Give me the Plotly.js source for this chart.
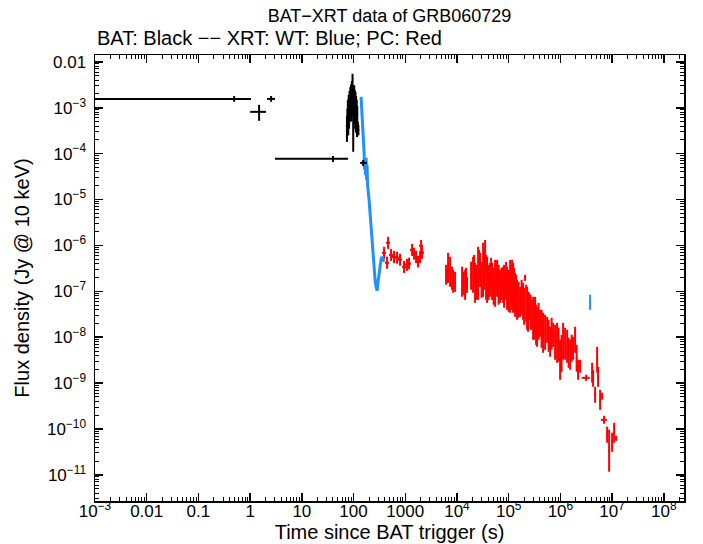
<!DOCTYPE html>
<html>
<head>
<meta charset="utf-8">
<script src="https://cdn.plot.ly/plotly-3.0.1.min.js"></script>
<style>html,body{margin:0;padding:0;background:#fff;}#chart{width:703px;height:544px;}</style>
</head>
<body>
<div id="chart"></div>
<script>
// ---------- BAT (black): wide bins ----------
const batLongT     = [0.49, 1.49, 2.54, 40.1, 153];
const batLongStart = [0.001, 1.0, 2.12, 3.03, 134];
const batLongStop  = [1.04, 2.03, 3.03, 78.3, 182];
const batLongF     = [1.56e-3, 8.15e-4, 1.56e-3, 7.7e-5, 6.3e-5];
const batLongFhi   = [1.80e-3, 1.16e-3, 1.80e-3, 8.9e-5, 7.3e-5];
const batLongFlo   = [1.35e-3, 5.2e-4, 1.35e-3, 6.6e-5, 5.4e-5];

// ---------- BAT (black): burst ----------
const batT = [74.5, 76, 77.5, 79, 80.5, 82, 83.5, 85, 86.5, 88, 89.5, 91, 92.5, 94, 95.5, 97, 98.5, 100, 101.5, 103, 104.5, 106, 107.5, 109, 110.5, 112, 113.5, 115, 116.5, 118, 121, 124];
const batTerr = [0.75, 0.75, 0.75, 0.75, 0.75, 0.75, 0.75, 0.75, 0.75, 0.75, 0.75, 0.75, 0.75, 0.75, 0.75, 0.75, 0.75, 0.75, 0.75, 0.75, 0.75, 0.75, 0.75, 0.75, 0.75, 0.75, 0.75, 0.75, 0.75, 0.75, 1.5, 1.5];
const batF = [4.0e-4, 6.0e-4, 9.0e-4, 5.5e-4, 1.2e-3, 8.0e-4, 1.5e-3, 1.0e-3, 1.8e-3, 1.3e-3, 2.0e-3, 1.1e-3, 2.4e-3, 1.6e-3, 3.0e-3, 1.4e-3, 9.0e-4, 1.7e-3, 1.2e-3, 2.0e-3, 1.0e-3, 1.5e-3, 8.0e-4, 1.3e-3, 7.0e-4, 1.1e-3, 6.0e-4, 9.0e-4, 5.0e-4, 7.0e-4, 3.8e-4, 3.3e-4];
const batFhi = [6.5e-4, 9.5e-4, 1.5e-3, 9.0e-4, 1.9e-3, 1.4e-3, 2.3e-3, 1.7e-3, 2.8e-3, 2.1e-3, 3.2e-3, 1.9e-3, 3.8e-3, 2.6e-3, 5.5e-3, 2.3e-3, 1.6e-3, 2.7e-3, 2.0e-3, 3.1e-3, 1.7e-3, 2.4e-3, 1.4e-3, 2.2e-3, 1.2e-3, 1.8e-3, 1.0e-3, 1.5e-3, 8.5e-4, 1.1e-3, 5.0e-4, 4.2e-4];
const batFlo = [1.8e-4, 3.0e-4, 4.5e-4, 2.5e-4, 6.5e-4, 3.5e-4, 8.5e-4, 5.0e-4, 1.0e-3, 6.5e-4, 1.1e-3, 5.0e-4, 1.3e-3, 8.0e-4, 1.4e-3, 6.5e-4, 1.1e-4, 8.5e-4, 5.5e-4, 1.0e-3, 4.5e-4, 7.0e-4, 3.5e-4, 6.0e-4, 3.0e-4, 5.0e-4, 2.8e-4, 4.0e-4, 2.3e-4, 3.5e-4, 2.8e-4, 2.5e-4];

// ---------- XRT WT (blue) ----------
const wtT = [139.6, 142.9, 146.0, 149.3, 152.8, 156.1, 159.6, 163.3, 166.8, 170.6, 174.6, 178.2, 182.4, 186.6, 190.5, 199.5, 208.5, 217.8, 228.0, 238.3, 249.5, 260.6, 272.3, 285.1, 297.8, 311.2, 325.8, 340.4, 355.6, 372.4, 389.0];
const wtF = [1.73e-3, 1.16e-3, 7.74e-4, 4.93e-4, 3.30e-4, 1.56e-4, 1.09e-4, 4.44e-5, 7.33e-5, 3.45e-5, 8.1e-5, 2.69e-5, 5.7e-5, 2.09e-5, 1.40e-5, 9.8e-6, 5.13e-6, 2.54e-6, 1.32e-6, 6.9e-7, 3.42e-7, 1.78e-7, 1.25e-7, 1.03e-7, 1.61e-7, 2.66e-7, 3.97e-7, 5.1e-7, 5.65e-7, 5.1e-7, 4.40e-7];
const wtLateT = [3.75e6];
const wtLateTerr = [30000];
const wtLateF = [5.9e-8];
const wtLateFhi = [8.4e-8];
const wtLateFlo = [3.95e-8];

// ---------- XRT PC (red) ----------
const pcT = [389, 445, 465, 531, 607, 693, 792, 948, 1083, 1184, 1354, 1480, 1618, 1770, 1933, 2022, 2115,
  6435, 6730, 7360, 8040, 8410, 12560, 14350, 15670, 20470, 22390, 25590, 27990, 31990, 34990, 38200, 43650, 47750, 54580, 59700, 68230, 77980, 85140, 93110,
  106400, 116400, 121600, 133000, 145200, 166300, 190100, 207500, 227000, 248300, 283800, 296500, 324300, 354000, 404700, 462400, 553400, 632400, 722800, 863000, 986300,
  1127000, 1349000, 1542000, 1762000, 1923000, 2198000, 2404000, 3141000, 4102000, 4285000, 4688000, 5129000, 5358000, 5861000, 6412000, 6998000, 8000000, 8750000, 10000000, 10940000, 11940000,
  6152, 9190, 13430, 14990, 18740, 21430, 23950, 26750, 29920, 33420, 36560, 40840, 45700, 51060, 57020, 63830, 72950, 81470, 89130, 99540,
  111200, 127100, 139000, 155200, 177800, 198600, 217300, 237100, 265500, 309700, 338800, 378400, 432500, 505800, 591600, 676100, 788900, 922600, 1054000, 1233000, 1442000, 1648000, 2057000];
const pcTerr = [35, 40, 42, 48, 55, 62, 71, 85, 97, 107, 122, 133, 146, 159, 174, 182, 190,
  130, 135, 150, 160, 170, 250, 290, 310, 410, 450, 510, 560, 640, 700, 760, 870, 950, 1090, 1190, 1360, 1560, 1700, 1860,
  2100, 2300, 2400, 2700, 2900, 3300, 3800, 4200, 4500, 5000, 5700, 5900, 6500, 7100, 8100, 9200, 11000, 12600, 14500, 17300, 19700,
  22500, 27000, 31000, 35000, 38000, 44000, 48000, 560000, 82000, 86000, 94000, 100000, 107000, 117000, 128000, 950000, 160000, 175000, 200000, 220000, 240000,
  120, 180, 270, 300, 370, 430, 480, 530, 600, 670, 730, 820, 910, 1020, 1140, 1280, 1460, 1630, 1780, 1990,
  2200, 2500, 2800, 3100, 3600, 4000, 4300, 4700, 5300, 6200, 6800, 7600, 8600, 10100, 11800, 13500, 15800, 18500, 21000, 24700, 28800, 33000, 41000];
const pcF = [6.9e-7, 4.2e-7, 1.14e-6, 6.2e-7, 5.6e-7, 5.4e-7, 4.9e-7, 3.4e-7, 3.8e-7, 4.0e-7, 8.0e-7, 6.6e-7, 5.6e-7, 4.4e-7, 5.6e-7, 9.8e-7, 6.9e-7,
  2.12e-7, 3.25e-7, 2.66e-7, 1.92e-7, 1.65e-7, 1.61e-7, 1.39e-7, 1.39e-7, 2.29e-7, 1.53e-7, 2.47e-7, 2.94e-7, 2.94e-7, 5.79e-7, 1.78e-7, 1.78e-7, 1.65e-7, 1.49e-7, 1.92e-7, 1.29e-7, 1.39e-7, 1.49e-7, 1.16e-7,
  1.29e-7, 1.39e-7, 1.19e-7, 8.4e-8, 6.5e-8, 5.9e-8, 6.05e-8, 1.97e-7, 4.27e-8, 4.71e-8, 3.08e-8, 2.58e-8, 2.78e-8, 1.69e-8, 2.01e-8, 1.25e-8, 1.45e-8, 7.9e-9, 1.13e-8, 7.55e-9, 3.22e-9,
  8.1e-9, 6.3e-9, 4.1e-9, 5.7e-9, 8.8e-9, 1.95e-9, 2.32e-9, 1.30e-9, 1.68e-9, 1.27e-9, 5.6e-10, 3.22e-9, 1.37e-9, 4.33e-10, 5.15e-10, 1.58e-10, 7.5e-11, 3.35e-11, 5.13e-11, 8.3e-11, 6.27e-11,
  2.29e-7, 1.61e-7, 1.49e-7, 1.87e-7, 2.18e-7, 2.94e-7, 1.57e-7, 3.78e-7, 1.78e-7, 2.94e-7, 2.02e-7, 1.57e-7, 2.41e-7, 1.29e-7, 1.92e-7, 1.39e-7, 1.46e-7, 1.29e-7, 1.69e-7, 1.03e-7,
  1.39e-7, 1.08e-7, 8.4e-8, 6.5e-8, 7.4e-8, 4.71e-8, 5.48e-8, 3.57e-8, 3.48e-8, 2.39e-8, 1.86e-8, 2.22e-8, 1.52e-8, 1.28e-8, 1.07e-8, 1.19e-8, 7.7e-9, 6.8e-9, 4.46e-9, 7.2e-9, 4.57e-9, 5.73e-9, 3.47e-9];
const pcFhi = [9.3e-7, 5.7e-7, 1.54e-6, 8.4e-7, 7.6e-7, 7.3e-7, 6.6e-7, 4.6e-7, 5.1e-7, 5.4e-7, 1.08e-6, 8.9e-7, 7.6e-7, 5.9e-7, 7.6e-7, 1.32e-6, 9.3e-7,
  2.94e-7, 6.9e-7, 5.65e-7, 3.42e-7, 2.94e-7, 3.42e-7, 2.94e-7, 2.07e-7, 5.65e-7, 4.18e-7, 9.3e-7, 6.9e-7, 1.14e-6, 1.32e-6, 5.65e-7, 4.18e-7, 4.18e-7, 4.85e-7, 4.85e-7, 2.94e-7, 3.42e-7, 2.94e-7, 3.42e-7,
  4.85e-7, 4.85e-7, 4.18e-7, 2.53e-7, 1.78e-7, 1.25e-7, 1.53e-7, 2.29e-7, 1.25e-7, 9.3e-8, 6.5e-8, 7.6e-8, 7.6e-8, 4.6e-8, 3.95e-8, 3.40e-8, 2.78e-8, 1.69e-8, 2.06e-8, 2.06e-8, 8.8e-9,
  2.06e-8, 1.45e-8, 8.8e-9, 1.02e-8, 1.69e-8, 3.22e-9, 3.22e-9, 1.52e-9, 2.77e-9, 1.95e-9, 8.3e-10, 6.18e-9, 2.26e-9, 7.1e-10, 6.15e-10, 1.94e-10, 1.12e-10, 9.6e-11, 8.3e-11, 1.36e-10, 7.1e-11,
  3.78e-7, 2.66e-7, 2.66e-7, 3.25e-7, 4.40e-7, 6.2e-7, 3.78e-7, 8.0e-7, 4.40e-7, 8.0e-7, 6.2e-7, 3.78e-7, 5.37e-7, 3.25e-7, 4.40e-7, 3.78e-7, 3.25e-7, 3.78e-7, 4.40e-7, 2.94e-7,
  3.78e-7, 3.25e-7, 2.29e-7, 1.61e-7, 1.78e-7, 1.19e-7, 1.39e-7, 9.75e-8, 8.4e-8, 6.5e-8, 5.1e-8, 5.6e-8, 3.95e-8, 3.08e-8, 2.39e-8, 2.65e-8, 1.86e-8, 1.60e-8, 1.13e-8, 1.60e-8, 9.7e-9, 1.13e-8, 6.8e-9];
const pcFlo = [5.1e-7, 3.1e-7, 8.4e-7, 4.6e-7, 4.1e-7, 4.0e-7, 3.6e-7, 2.5e-7, 2.8e-7, 3.0e-7, 5.9e-7, 4.9e-7, 4.1e-7, 3.3e-7, 4.1e-7, 7.3e-7, 5.1e-7,
  1.53e-7, 1.53e-7, 1.25e-7, 1.08e-7, 9.3e-8, 7.6e-8, 6.5e-8, 9.3e-8, 9.3e-8, 5.6e-8, 6.5e-8, 1.25e-7, 7.6e-8, 2.53e-7, 5.6e-8, 7.6e-8, 6.5e-8, 4.6e-8, 7.6e-8, 5.6e-8, 5.6e-8, 7.6e-8, 3.95e-8,
  3.40e-8, 3.95e-8, 3.40e-8, 2.78e-8, 2.39e-8, 2.78e-8, 2.39e-8, 1.69e-7, 1.45e-8, 2.39e-8, 1.45e-8, 8.8e-9, 1.02e-8, 6.18e-9, 1.02e-8, 4.57e-9, 7.55e-9, 3.74e-9, 6.18e-9, 2.77e-9, 1.18e-9,
  3.22e-9, 2.77e-9, 1.95e-9, 3.22e-9, 4.57e-9, 1.18e-9, 1.68e-9, 1.12e-9, 1.02e-9, 8.3e-10, 3.72e-10, 1.68e-9, 8.3e-10, 2.62e-10, 4.33e-10, 1.30e-10, 5.0e-11, 1.17e-11, 3.18e-11, 5.0e-11, 5.5e-11,
  1.39e-7, 9.75e-8, 8.4e-8, 1.08e-7, 1.08e-7, 1.39e-7, 6.5e-8, 1.78e-7, 7.2e-8, 1.08e-7, 6.5e-8, 6.5e-8, 1.08e-7, 5.1e-8, 8.4e-8, 5.1e-8, 6.5e-8, 4.37e-8, 6.5e-8, 3.57e-8,
  5.1e-8, 3.57e-8, 3.08e-8, 2.65e-8, 3.08e-8, 1.86e-8, 2.17e-8, 1.31e-8, 1.45e-8, 8.8e-9, 6.8e-9, 8.8e-9, 5.9e-9, 5.3e-9, 4.8e-9, 5.3e-9, 3.22e-9, 2.91e-9, 1.76e-9, 3.22e-9, 2.15e-9, 2.91e-9, 1.76e-9];

// ---------- Axis ticks ----------
const xTickVals = [1e-3, 1e-2, 1e-1, 1, 10, 100, 1000, 1e4, 1e5, 1e6, 1e7, 1e8];
const xTickText = ['10<sup>\u22123</sup>', '0.01', '0.1', '1', '10', '100', '1000', '10<sup>4</sup>', '10<sup>5</sup>', '10<sup>6</sup>', '10<sup>7</sup>', '10<sup>8</sup>'];
const yTickVals = [1e-11, 1e-10, 1e-9, 1e-8, 1e-7, 1e-6, 1e-5, 1e-4, 1e-3, 1e-2];
const yTickText = ['10<sup>\u221211</sup>', '10<sup>\u221210</sup>', '10<sup>\u22129</sup>', '10<sup>\u22128</sup>', '10<sup>\u22127</sup>', '10<sup>\u22126</sup>', '10<sup>\u22125</sup>', '10<sup>\u22124</sup>', '10<sup>\u22123</sup>', '0.01'];

const diff = (a, b) => a.map((v, i) => v - b[i]);

const BLACK = '#000000', BLUE = '#1E90FF', RED = '#FF0000';

function errTrace(x, y, xm, xp, ym, yp, color, th) {
  return {
    type: 'scatter', mode: 'markers', x: x, y: y,
    marker: {size: 2, color: color},
    error_x: {type: 'data', symmetric: false, array: xp, arrayminus: xm, color: color, thickness: th, width: 0},
    error_y: {type: 'data', symmetric: false, array: yp, arrayminus: ym, color: color, thickness: th, width: 0},
    hoverinfo: 'skip', showlegend: false, cliponaxis: true
  };
}

const traces = [
  errTrace(pcT, pcF, pcTerr, pcTerr, diff(pcF, pcFlo), diff(pcFhi, pcF), RED, 2),
  {type: 'scatter', mode: 'lines', x: wtT, y: wtF, line: {color: BLUE, width: 3}, hoverinfo: 'skip', showlegend: false},
  errTrace(wtLateT, wtLateF, wtLateTerr, wtLateTerr, diff(wtLateF, wtLateFlo), diff(wtLateFhi, wtLateF), BLUE, 2),
  errTrace(batT, batF, batTerr, batTerr, diff(batF, batFlo), diff(batFhi, batF), BLACK, 2),
  errTrace(batLongT, batLongF, diff(batLongT, batLongStart), diff(batLongStop, batLongT), diff(batLongF, batLongFlo), diff(batLongFhi, batLongF), BLACK, 2)
];

const FONT = '"Liberation Sans", Arial, Helvetica, sans-serif';
const axisCommon = {
  type: 'log', showgrid: false, zeroline: false,
  showline: true, linecolor: '#000', linewidth: 1.5, mirror: 'ticks',
  ticks: 'inside', ticklen: 8, tickwidth: 1.5, tickcolor: '#000',
  minor: {ticks: 'inside', ticklen: 4, tickwidth: 1, tickcolor: '#000', dtick: 'D1', showgrid: false},
  tickfont: {family: FONT, size: 17, color: '#000'},
  automargin: false
};

const layout = {
  width: 703, height: 544,
  margin: {l: 95, r: 19, t: 55, b: 43},
  paper_bgcolor: '#fff', plot_bgcolor: '#fff',
  font: {family: FONT, color: '#000'},
  showlegend: false,
  title: {text: 'BAT\u2212XRT data of GRB060729', font: {family: FONT, size: 18, color: '#000'},
          xref: 'paper', x: 0.5, xanchor: 'center', yref: 'container', y: 0.972, yanchor: 'middle'},
  annotations: [{
    text: 'BAT: Black \u2212\u2212 XRT: WT: Blue; PC: Red', xref: 'paper', yref: 'paper',
    x: 0, xanchor: 'left', y: 1.038, yanchor: 'middle', showarrow: false,
    font: {family: FONT, size: 20, color: '#000'}
  }],
  xaxis: Object.assign({}, axisCommon, {
    range: [-3, 8.39], tickmode: 'array', tickvals: xTickVals, ticktext: xTickText,
    ticklabelstandoff: -6,
    title: {text: 'Time since BAT trigger (s)', font: {family: FONT, size: 20, color: '#000'}, standoff: 0}
  }),
  yaxis: Object.assign({}, axisCommon, {
    range: [-11.57, -1.85], tickmode: 'array', tickvals: yTickVals, ticktext: yTickText,
    ticklabelstandoff: 4,
    title: {text: 'Flux density (Jy @ 10 keV)', font: {family: FONT, size: 20, color: '#000'}, standoff: 12}
  })
};

Plotly.newPlot('chart', traces, layout, {displayModeBar: false, staticPlot: true});
</script>
</body>
</html>
